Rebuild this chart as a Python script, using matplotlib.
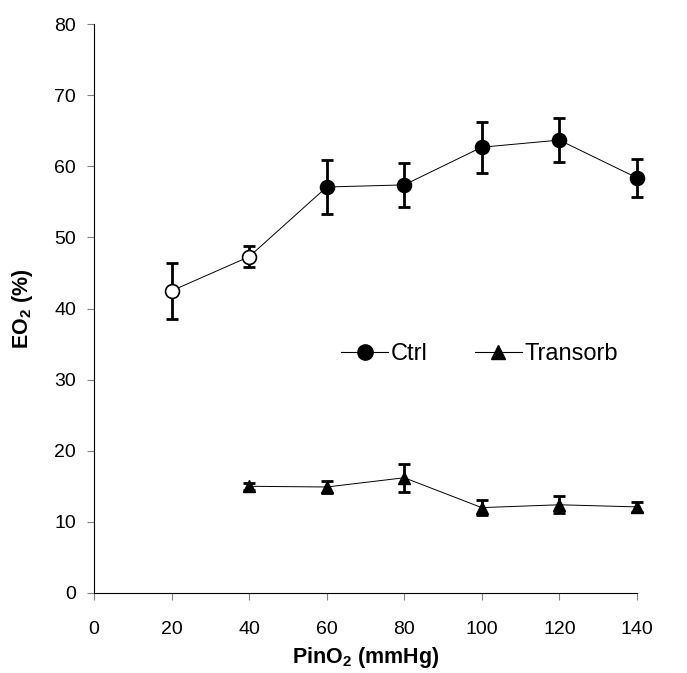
import matplotlib
matplotlib.use("Agg")
import matplotlib.pyplot as plt
from matplotlib.lines import Line2D

plt.rcParams['font.family'] = ['Liberation Sans', 'DejaVu Sans']
plt.rcParams['mathtext.fontset'] = 'custom'
plt.rcParams['mathtext.rm'] = 'Liberation Sans'
plt.rcParams['mathtext.bf'] = 'Liberation Sans:bold'

# datos
pin_ctrl = [20, 40, 60, 80, 100, 120, 140]
eo2_ctrl = [42.5, 47.3, 57.1, 57.4, 62.7, 63.7, 58.4]
err_ctrl = [3.9, 1.5, 3.8, 3.1, 3.6, 3.1, 2.7]
abierto_ctrl = [True, True, False, False, False, False, False]

pin_trans = [40, 60, 80, 100, 120, 140]
eo2_trans = [15.0, 14.9, 16.2, 12.0, 12.4, 12.1]
err_trans = [0.5, 0.9, 2.0, 1.1, 1.2, 0.7]

fig = plt.figure(figsize=(6.87, 6.73), dpi=100)
ax = fig.add_axes([0.137, 0.119, 0.790, 0.845])

# lineas
ax.plot(pin_ctrl, eo2_ctrl, color="black", lw=0.7, zorder=1, clip_on=False)
ax.plot(pin_trans, eo2_trans, color="black", lw=0.7, zorder=1, clip_on=False)

# barras de error
for xs, ys, es in [(pin_ctrl, eo2_ctrl, err_ctrl), (pin_trans, eo2_trans, err_trans)]:
    eb = ax.errorbar(xs, ys, yerr=es, fmt="none", ecolor="black",
                     elinewidth=2, capsize=4.5, capthick=2, zorder=2)
    for art in eb.lines[1] + eb.lines[2]:
        art.set_clip_on(False)

# marcadores
for x, y, ab in zip(pin_ctrl, eo2_ctrl, abierto_ctrl):
    ax.plot(x, y, "o", ms=10, mec="black", mew=1.2,
            mfc="white" if ab else "black", zorder=3, clip_on=False)
ax.plot(pin_trans, eo2_trans, "^", ms=9, color="black", zorder=3, ls="none",
        clip_on=False)

ax.set_xlim(0, 140)
ax.set_ylim(0, 80)
ax.set_xticks(range(0, 141, 20))
ax.set_yticks(range(0, 81, 10))
ax.tick_params(labelsize=14, length=5, width=0.8, color="gray")
ax.tick_params(axis="x", pad=15)
ax.tick_params(axis="y", pad=8)
for s in ["top", "right"]:
    ax.spines[s].set_visible(False)

ax.set_xlabel("PinO$_\\mathbf{2}$ (mmHg)", fontsize=15.5, fontweight="bold", labelpad=5)
ax.set_ylabel("EO$_\\mathbf{2}$ (%)", fontsize=15.5, fontweight="bold", labelpad=14)

handles = [
    Line2D([], [], color="black", lw=0.8, marker="o", ms=11),
    Line2D([], [], color="black", lw=0.8, marker="^", ms=10),
]
ax.legend(handles, ["Ctrl", "Transorb"], ncol=2, frameon=False, fontsize=17,
          loc="center", bbox_to_anchor=(0.71, 0.42), handlelength=2.0,
          handletextpad=0.1, columnspacing=2.0)

fig.savefig("out.png", dpi=100)
